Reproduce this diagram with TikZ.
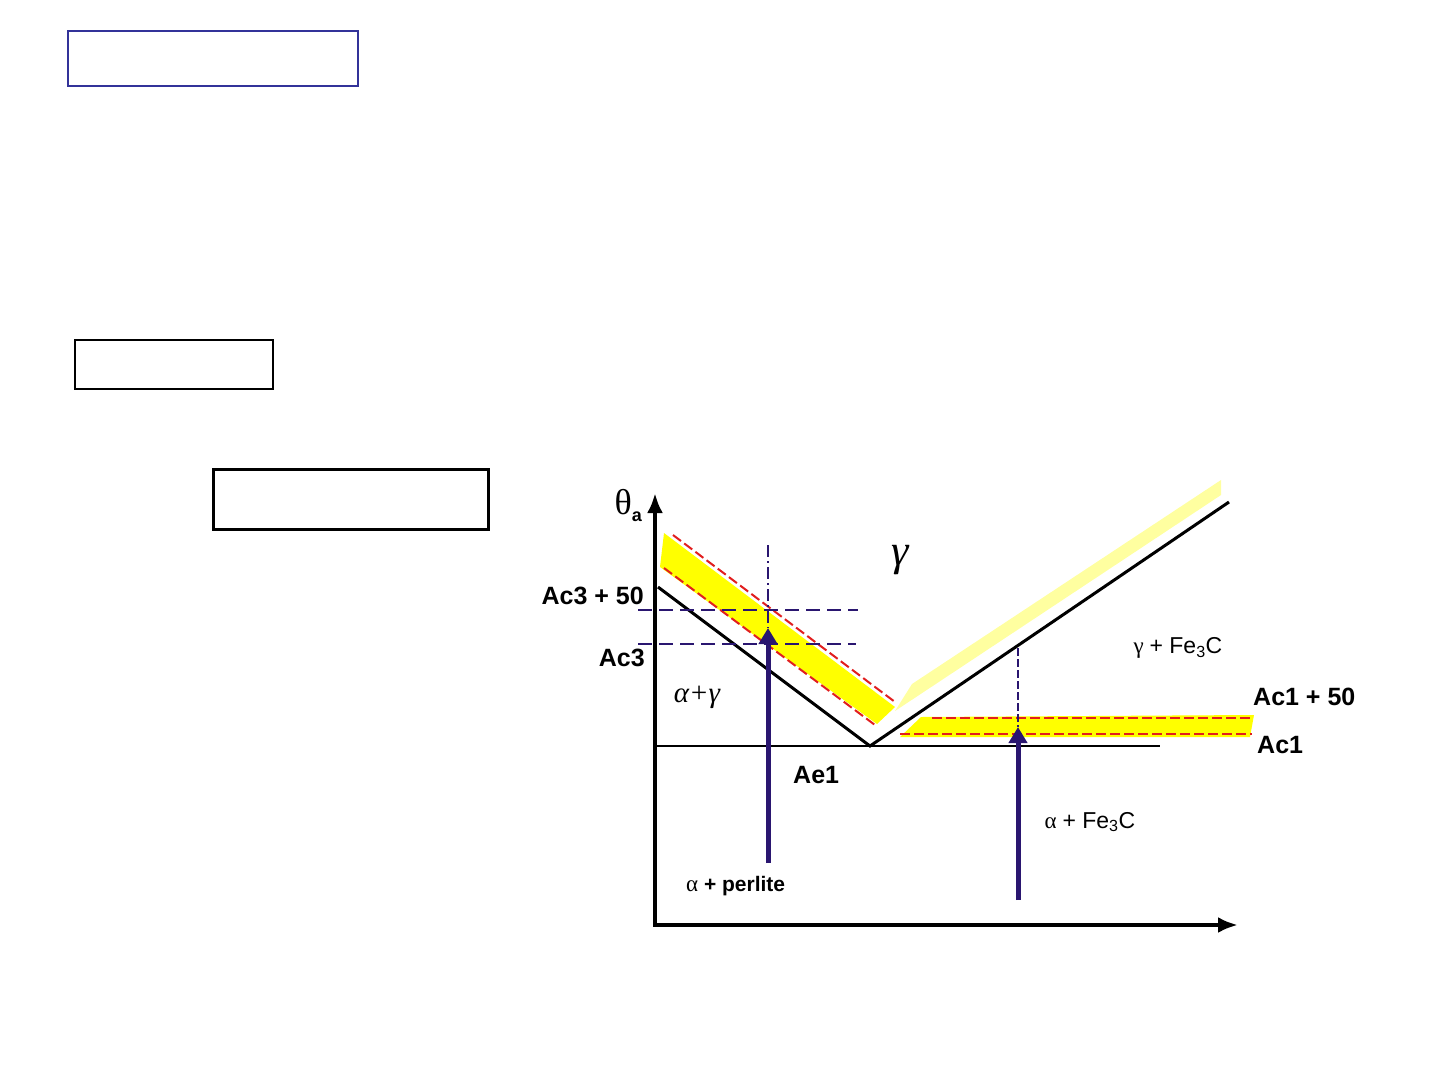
\documentclass[tikz,border=0pt]{standalone}
\usepackage{fontspec}
\setmainfont{Liberation Sans}
\newfontfamily\greekfont{Liberation Serif}
\usepackage{tikz}
\usetikzlibrary{shapes,arrows,arrows.meta,positioning}
\definecolor{navy}{RGB}{42,22,112}
\definecolor{boxblue}{RGB}{51,51,153}
\definecolor{bandyellow}{RGB}{255,255,0}
\definecolor{paleyellow}{RGB}{255,255,160}
\definecolor{limitred}{RGB}{225,30,30}
\tikzstyle{emptybox} = [rectangle, draw, line width=2pt, inner sep=0pt]
\tikzstyle{phase} = [font=\bfseries\fontsize{25}{30}\selectfont, inner sep=0pt]
\tikzstyle{region} = [font=\fontsize{23}{26}\selectfont, inner sep=0pt]
\tikzstyle{axis} = [line width=4pt]
\tikzstyle{boundary} = [line width=3pt]
\tikzstyle{limit} = [limitred, line width=2pt, dash pattern=on 10pt off 4pt]
\tikzstyle{level} = [navy, line width=2.5pt, dash pattern=on 14pt off 7pt]
\tikzstyle{heat} = [navy, line width=5pt, -{Triangle[length=16pt,width=18pt]}]

\begin{document}
\begin{tikzpicture}[x=1pt, y=-1pt]
    \useasboundingbox (0,0) rectangle (1438,1074);
    % Empty boxes
    \node [emptybox, draw=boxblue, minimum width=290pt, minimum height=55pt] (title) at (213,58.5) {};
    \node [emptybox, minimum width=198pt, minimum height=49pt] (topic) at (174,364.5) {};
    \node [emptybox, line width=3pt, minimum width=275pt, minimum height=60pt] (caption) at (350.5,499) {};

    % Key points
    \coordinate (O) at (655,925);
    \coordinate (ytip) at (655,493);
    \coordinate (xtip) at (1238,925);
    \coordinate (A3) at (658,587);
    \coordinate (V) at (870,746);
    \coordinate (Acm) at (1229,502);
    \coordinate (E0) at (656,746);
    \coordinate (E1) at (1160,746);

    % Bands
    \fill [bandyellow] (664,533) -- (660,567) -- (877,724) -- (895,707) -- cycle;
    \fill [paleyellow] (895,711) -- (912,684) -- (1221,480) -- (1221,495) -- cycle;
    \fill [bandyellow] (900,737) -- (921,717) -- (1254,715) -- (1250,737) -- cycle;
    \draw [limit] (673,535) -- (895,702);
    \draw [limit] (664,568) -- (875,725);
    \draw [limit] (932,718) -- (1252,718);
    \draw [limit] (900,734) -- (1252,734);

    % Lines
    \draw [boundary] (A3) -- (V) -- (Acm);
    \draw [boundary, line width=2.5pt] (E0) -- (E1);
    \draw [level] (638,610) -- (858,610);
    \draw [level] (638,644) -- (856,644);
    \coordinate (h1top) at (768,545);
    \coordinate (h1tip) at (768,628);
    \coordinate (h1foot) at (768,863);
    \coordinate (h2top) at (1018,648);
    \coordinate (h2tip) at (1018,727);
    \coordinate (h2foot) at (1018,900);
    \draw [navy, line width=2pt, dash pattern=on 12pt off 4pt on 2pt off 4pt] (h1top) -- (h1tip);
    \draw [navy, line width=1.2pt, dash pattern=on 8pt off 3pt] (h2top) -- (h2tip);
    \draw [heat] (h1foot) -- (h1tip);
    \draw [heat] (h2foot) -- (h2tip);

    % Axes
    \draw [axis, {Latex[length=20pt,width=16pt]}-{Latex[length=20pt,width=16pt]}] (ytip) |- (xtip);

    % Labels
    \node [anchor=south east, inner sep=0pt] (theta) at (642,522) {\greekfont\fontsize{36}{40}\selectfont θ\raisebox{-7pt}{\fontspec{Liberation Sans}\bfseries\fontsize{18}{20}\selectfont a}};
    \node [phase, anchor=east] (ac350) at (644,596) {Ac3 + 50};
    \node [phase, anchor=east] (ac3) at (645,658) {Ac3};
    \node [phase, anchor=west] (ac150) at (1253,697) {Ac1 + 50};
    \node [phase, anchor=west] (ac1) at (1257,745) {Ac1};
    \node [phase, anchor=west] (ae1) at (793,775) {Ae1};
    \node [inner sep=0pt] (ag) at (697,697) {\greekfont\itshape\fontsize{29}{32}\selectfont α+γ};
    \node [inner sep=0pt] (g) at (900,560) {\greekfont\itshape\fontsize{44}{48}\selectfont γ};
    \node [region] (gfe) at (1178,648) {\greekfont γ\ \fontspec{Liberation Sans}+ Fe\textsubscript{3}C};
    \node [region] (afe) at (1090,822) {\greekfont α\ \fontspec{Liberation Sans}+ Fe\textsubscript{3}C};
    \node [region, anchor=west] (ap) at (686,886) {\greekfont α \fontspec{Liberation Sans}\bfseries\fontsize{21}{24}\selectfont + perlite};
\end{tikzpicture}
\end{document}
